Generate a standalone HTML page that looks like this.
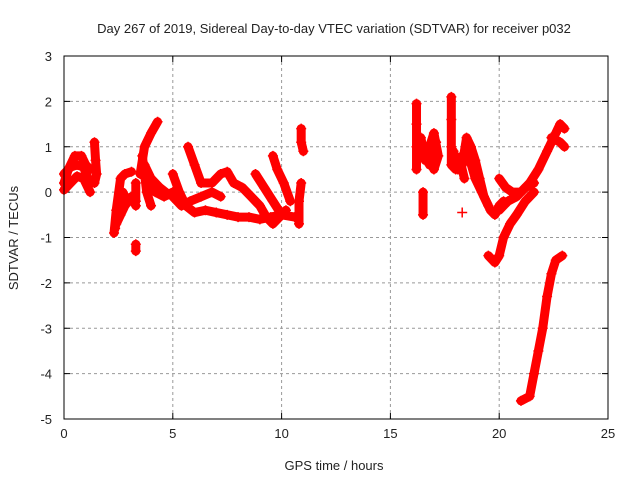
<!DOCTYPE html>
<html><head><meta charset="utf-8"><style>
body{margin:0;background:#fff}
svg text{font-family:"Liberation Sans",sans-serif;font-size:13px;fill:#222}
</style></head><body>
<svg id="c" width="640" height="480">
<text x="334" y="33" text-anchor="middle">Day 267 of 2019, Sidereal Day-to-day VTEC variation (SDTVAR) for receiver p032</text>
<text x="334" y="470" text-anchor="middle">GPS time / hours</text>
<text x="18" y="238" text-anchor="middle" transform="rotate(-90 18 238)">SDTVAR / TECUs</text>
<g id="grid"></g><g id="marks"></g>
<rect x="64" y="56" width="544" height="363" fill="none" stroke="#000"/>
</svg>
<script>
const xTicks=[0,5,10,15,20,25];
const yTicks=[-5,-4,-3,-2,-1,0,1,2,3];
const tracks=[
 [[0,0.2],[0.2,0.5],[0.5,0.8],[0.8,0.8],[1.0,0.6],[1.2,0.5]],
 [[0,0.4],[0.3,0.55],[0.6,0.6],[0.9,0.55],[1.1,0.3]],
 [[0,0.05],[0.3,0.2],[0.6,0.35],[0.9,0.3],[1.2,0.0]],
 [[1.4,1.1],[1.45,0.7],[1.5,0.4],[1.4,0.2]],
 [[2.3,-0.9],[2.4,-0.4],[2.6,0.3],[2.8,0.4],[3.1,0.45]],
 [[2.4,-0.7],[2.6,-0.5],[2.8,-0.3],[3.1,-0.1],[3.3,-0.3]],
 [[2.35,-0.8],[2.5,-0.2],[2.7,0.0],[2.9,-0.2]],
 [[3.3,-1.3],[3.3,-1.15]],
 [[3.3,-0.2],[3.3,0.2]],
 [[3.5,0.4],[3.7,1.0],[4.0,1.3],[4.3,1.55]],
 [[3.6,0.5],[3.8,0.2],[4.2,0.0],[4.6,-0.1],[5.0,0.0]],
 [[3.6,0.8],[3.8,0.0],[4.0,-0.3]],
 [[3.7,0.6],[4.0,0.3],[4.4,0.1],[4.8,-0.05]],
 [[5.0,0.4],[5.3,0.0],[5.6,-0.3],[6.0,-0.45],[6.5,-0.4],[7.0,-0.45],[7.5,-0.5],[8,-0.55],[8.5,-0.55],[9,-0.6],[9.5,-0.55],[10.0,-0.5],[10.6,-0.55]],
 [[5.7,1.0],[6.0,0.6],[6.3,0.2],[6.8,0.2],[7.2,0.4],[7.5,0.45],[7.8,0.2],[8.2,0.1],[8.6,-0.1],[9.0,-0.3],[9.3,-0.55],[9.6,-0.7],[9.9,-0.55],[10.2,-0.4]],
 [[5.0,-0.1],[5.4,-0.3],[5.8,-0.2],[6.3,-0.1],[6.8,0.0],[7.2,-0.1]],
 [[8.8,0.4],[9.2,0.1],[9.6,-0.2],[10.0,-0.5]],
 [[9.6,0.8],[9.8,0.5],[10.1,0.2],[10.4,-0.2]],
 [[10.9,1.4],[10.9,1.1],[11.0,0.9]],
 [[10.9,0.2],[10.8,-0.2],[10.8,-0.7]],
 [[16.2,1.95],[16.2,1.5],[16.2,1.0],[16.2,0.5]],
 [[16.5,-0.5],[16.5,0.0]],
 [[16.4,1.2],[16.6,0.7],[16.8,1.0],[17.0,1.3],[17.2,0.8],[17.0,0.5]],
 [[16.5,0.9],[16.8,0.6],[17.0,0.9],[17.1,1.1]],
 [[17.8,2.1],[17.8,1.6],[17.8,1.0],[17.8,0.6],[18.0,0.5],[18.2,0.7],[18.4,0.3]],
 [[17.9,0.9],[18.1,0.5],[18.3,0.8]],
 [[18.3,-0.45]],
 [[18.3,0.6],[18.5,1.2],[18.7,1.0],[18.9,0.7],[19.1,0.3],[19.3,-0.1],[19.6,-0.4],[19.8,-0.5],[20.0,-0.3],[20.2,-0.2]],
 [[18.6,0.8],[18.9,0.3],[19.2,0.0],[19.5,-0.3]],
 [[20.0,0.3],[20.3,0.1],[20.6,0.0],[21.0,0.0],[21.4,0.2],[21.8,0.5],[22.2,0.9],[22.6,1.3],[22.8,1.5],[23.0,1.4]],
 [[20.0,-0.4],[20.4,-0.2],[20.8,-0.1],[21.2,0.1],[21.6,0.2]],
 [[22.4,1.2],[22.8,1.1],[23.0,1.0]],
 [[19.5,-1.4],[19.8,-1.55],[20.0,-1.4],[20.2,-1.0],[20.5,-0.7],[20.8,-0.5],[21.2,-0.2],[21.6,0.0]],
 [[21.0,-4.6],[21.4,-4.5],[21.6,-4.0],[21.8,-3.5],[22.0,-3.0],[22.2,-2.3],[22.4,-1.8],[22.6,-1.5],[22.9,-1.4]]
];
const NS="http://www.w3.org/2000/svg";
const X=t=>64+t*544/25, Y=v=>56+(3-v)*363/8;
const grid=document.getElementById('grid'), marks=document.getElementById('marks');
function mk(tag,attrs,parent){const e=document.createElementNS(NS,tag);for(const k in attrs)e.setAttribute(k,attrs[k]);parent.appendChild(e);return e;}
xTicks.forEach(t=>{
 const x=X(t);
 if(t>0&&t<25){const g=mk('line',{x1:x,x2:x,y1:56,y2:419,stroke:'#999','stroke-dasharray':'3,3'},grid);
 
 }
 const l=mk('text',{x:x,y:438,'text-anchor':'middle'},grid);l.textContent=t;
 
 
 mk('line',{x1:x,x2:x,y1:419,y2:413,stroke:'#000'},grid);mk('line',{x1:x,x2:x,y1:56,y2:62,stroke:'#000'},grid);
});
yTicks.forEach(v=>{
 const y=Y(v);
 if(v>-5&&v<3){const g=mk('line',{x1:64,x2:608,y1:y,y2:y,stroke:'#999','stroke-dasharray':'3,3'},grid);
 
 }
 const l=mk('text',{x:52,y:y+5,'text-anchor':'end'},grid);l.textContent=v;
 
 
 mk('line',{x1:64,x2:70,y1:y,y2:y,stroke:'#000'},grid);mk('line',{x1:602,x2:608,y1:y,y2:y,stroke:'#000'},grid);
});
tracks.forEach(tr=>{
 const p=mk('polyline',{points:tr.map(d=>X(d[0])+','+Y(d[1])).join(' '),fill:'none',stroke:'#f00','stroke-width':9,'stroke-linejoin':'round','stroke-linecap':'round'},marks);
 
 
 tr.forEach(d=>{
  const m=mk('path',{d:`M${X(d[0])-5},${Y(d[1])}h10M${X(d[0])},${Y(d[1])-5}v10`,stroke:'#f00','stroke-width':1.5},marks);
  
  
 });
});
</script>
</body></html>
